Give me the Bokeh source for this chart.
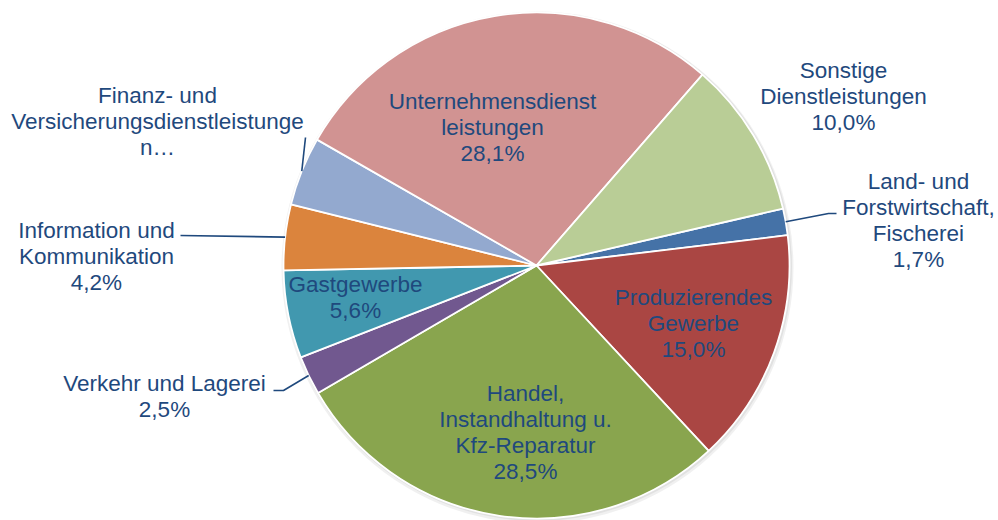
import numpy as np
from bokeh.plotting import figure
from bokeh.models import Range1d, ColumnDataSource
from bokeh.embed import file_html
from bokeh.resources import INLINE
from bokeh.core.properties import value

# ---------------- data ----------------
sectors = [
    "Land- und\nForstwirtschaft,\nFischerei",
    "Produzierendes\nGewerbe",
    "Handel,\nInstandhaltung u.\nKfz-Reparatur",
    "Verkehr und Lagerei",
    "Gastgewerbe",
    "Information und\nKommunikation",
    "Finanz- und\nVersicherungsdienstleistunge\nn…",
    "Unternehmensdienst\nleistungen",
    "Sonstige\nDienstleistungen",
]
shares = [1.7, 15.0, 28.5, 2.5, 5.6, 4.2, 4.4, 28.1, 10.0]
show_pct = [True, True, True, True, True, True, False, True, True]

# ---------------- style / layout ----------------
colors = ["#4572a7", "#aa4643", "#89a54e", "#71588f", "#4198af",
          "#db843d", "#93a9cf", "#d19392", "#b9cd96"]
W, H = 998, 520
CX, CY = 536, H - 265      # pie centre (data units == pixels)
R = 253
FIRST_ANGLE = 77.0         # clockwise from 12 o'clock
TEXT_COLOR = "#1f497d"

# label block centres (pixel coords, y from top)
label_xy = [(918, 220), (693, 323), (525, 432), (164, 396), (355, 297),
            (96, 256), (157, 121), (492, 127), (843, 96)]
# leader-line elbows (pixel coords, y from top), None = no leader
leader_pts = [[(828, 213), (836, 213)], None, None, [(283, 390), (273, 390)], None,
              [(180, 235)], [(305, 137)], None, None]

# ---------------- geometry ----------------
vals = np.array(shares)
cum = np.concatenate([[0], np.cumsum(vals)]) / vals.sum() * 360.0
c1 = FIRST_ANGLE + cum[:-1]
c2 = FIRST_ANGLE + cum[1:]
start = np.radians(90 - c2)
end = np.radians(90 - c1)
mid = np.radians((c1 + c2) / 2)

src = ColumnDataSource(dict(x=[CX] * len(vals), y=[CY] * len(vals),
                            start=start, end=end, color=colors))

p = figure(width=W, height=H, output_backend="svg", toolbar_location=None,
           x_range=Range1d(0, W), y_range=Range1d(0, H), min_border=0)
p.axis.visible = False
p.grid.visible = False
p.outline_line_color = None
p.background_fill_color = "white"

# soft shadow
p.circle(x=[CX + 1], y=[CY - 2], radius=R + 3, fill_color="#000000",
         fill_alpha=0.06, line_color=None)
p.circle(x=[CX + 1], y=[CY - 1], radius=R + 1.5, fill_color="#000000",
         fill_alpha=0.06, line_color=None)

p.wedge(x="x", y="y", radius=R, start_angle="start", end_angle="end",
        direction="anticlock", fill_color="color", line_color="white",
        line_width=1.8, source=src)

# leader lines
for i, pts in enumerate(leader_pts):
    if pts is None:
        continue
    sx = CX + R * np.sin(mid[i])
    sy = CY + R * np.cos(mid[i])
    xs = [sx] + [q[0] for q in pts]
    ys = [sy] + [H - q[1] for q in pts]
    p.line(xs, ys, line_color=TEXT_COLOR, line_width=1.6)

# labels
texts = []
for s, v, sp in zip(sectors, shares, show_pct):
    t = s
    if sp:
        t += "\n" + f"{v:.1f}".replace(".", ",") + "%"
    texts.append(t)
lsrc = ColumnDataSource(dict(x=[q[0] for q in label_xy],
                             y=[H - q[1] for q in label_xy], text=texts))
p.text(x="x", y="y", text="text", source=lsrc, text_align="center",
       text_baseline="middle", text_font=value("Liberation Sans"),
       text_font_size="22.5px", text_color=TEXT_COLOR, text_line_height=1.05)

open("out.html", "w").write(file_html(p, INLINE))
